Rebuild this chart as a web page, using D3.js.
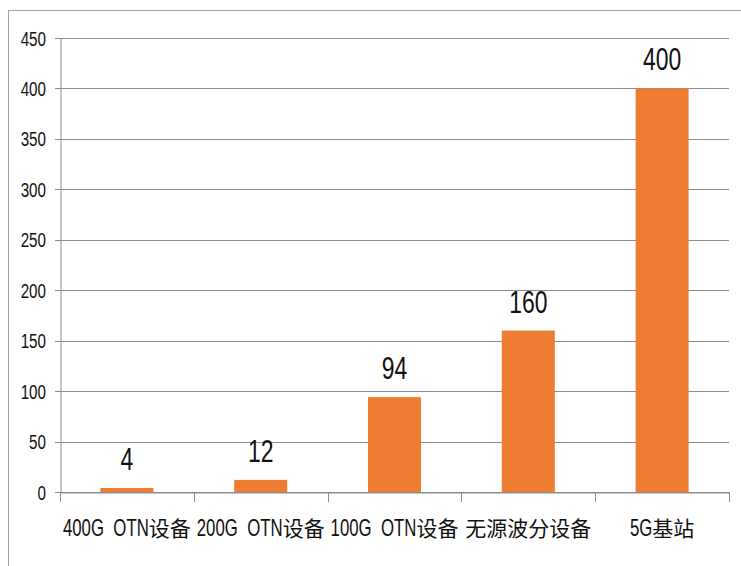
<!DOCTYPE html>
<html><head><meta charset="utf-8">
<script src="https://cdn.jsdelivr.net/npm/d3@7"></script>
<style>
html,body{margin:0;padding:0;background:#fff;}
svg{display:block;}
text{fill:#111;}
</style></head>
<body>
<svg id="chart" width="741" height="566"></svg>
<script>
const categories = ["400G  OTN设备", "200G  OTN设备", "100G  OTN设备", "无源波分设备", "5G基站"];
const values = [4, 12, 94, 160, 400];
const yTicks = [0, 50, 100, 150, 200, 250, 300, 350, 400, 450];

const LATIN = '"Liberation Sans", Arial, sans-serif';
const CJK = '"Noto Sans CJK SC", sans-serif';
const svg = d3.select("#chart");

// outer frame (cut off at right/bottom)
svg.append("rect").attr("x", 8.5).attr("y", 10.5).attr("width", 800).attr("height", 700)
  .attr("fill", "none").attr("stroke", "#a0a0a0").attr("stroke-width", 1);

const x = d3.scaleBand().domain(categories).range([60, 729]).paddingInner(0).paddingOuter(0);
const y = d3.scaleLinear().domain([0, 450]).range([492, 38]);

// gridlines
svg.append("g").selectAll("line").data(yTicks).join("line")
  .attr("x1", 55).attr("x2", 729)
  .attr("y1", d => Math.round(y(d)) + 0.5).attr("y2", d => Math.round(y(d)) + 0.5)
  .attr("stroke", "#8c8c8c").attr("stroke-width", 1);

// y axis
const yAxis = d3.axisLeft(y).tickValues(yTicks).tickSize(0);
const gy = svg.append("g").attr("transform", "translate(60.5,0)").call(yAxis);
gy.select(".domain").attr("stroke", "#8c8c8c");
gy.selectAll(".tick text")
  .attr("x", 0).attr("dy", "0.36em")
  .attr("transform", "translate(-14.5,0) scale(0.78,1)")
  .attr("text-anchor", "end")
  .attr("font-size", 19.5).attr("font-family", LATIN).attr("fill", "#111");

// bars
const bw = 53;
svg.append("g").selectAll("rect").data(values).join("rect")
  .attr("x", (d, i) => x(categories[i]) + x.bandwidth() / 2 - bw / 2)
  .attr("width", bw)
  .attr("y", d => y(d))
  .attr("height", d => y(0) - y(d))
  .attr("fill", "#ED7D31");

// x axis line + boundary ticks
const gx = svg.append("g").attr("transform", "translate(0,492.5)").call(d3.axisBottom(x).tickSize(0).tickFormat(""));
gx.select(".domain").attr("stroke", "#8c8c8c");
const bounds = categories.map(c => x(c)).concat([x.range()[1]]);
svg.append("g").selectAll("line").data(bounds).join("line")
  .attr("x1", d => Math.round(d) + 0.5).attr("x2", d => Math.round(d) + 0.5)
  .attr("y1", 492).attr("y2", 502).attr("stroke", "#8c8c8c");

// x labels: mixed latin (narrowed) + CJK runs
const sx = 0.7, latinSize = 24, cjkSize = 21;
const isCJK = ch => /[\u3400-\u9fff]/.test(ch);
function runsOf(s) {
  const out = [];
  for (const ch of s) {
    const c = isCJK(ch);
    if (out.length && out[out.length - 1].cjk === c) out[out.length - 1].t += ch;
    else out.push({t: ch, cjk: c});
  }
  return out;
}
const xl = svg.append("g");
categories.forEach(cat => {
  const cx = x(cat) + x.bandwidth() / 2;
  const g = xl.append("g");
  const items = runsOf(cat).map(r => {
    const t = g.append("text").attr("xml:space", "preserve").style("white-space", "pre")
      .attr("font-family", r.cjk ? CJK : LATIN)
      .attr("font-size", r.cjk ? cjkSize : latinSize)
      .text(r.t);
    const w = t.node().getComputedTextLength() * (r.cjk ? 1 : sx);
    return {t, w, cjk: r.cjk};
  });
  const total = d3.sum(items, d => d.w);
  let cur = cx - total / 2;
  items.forEach(it => {
    it.t.attr("transform", `translate(${cur},536)` + (it.cjk ? "" : ` scale(${sx},1)`));
    cur += it.w;
  });
});

// value labels
svg.append("g").selectAll("text").data(values).join("text")
  .attr("transform", (d, i) => `translate(${x(categories[i]) + x.bandwidth() / 2},${y(d) - 18}) scale(0.74,1)`)
  .attr("text-anchor", "middle")
  .attr("font-family", LATIN)
  .attr("font-size", 31)
  .text(d => d);
</script>
</body></html>
